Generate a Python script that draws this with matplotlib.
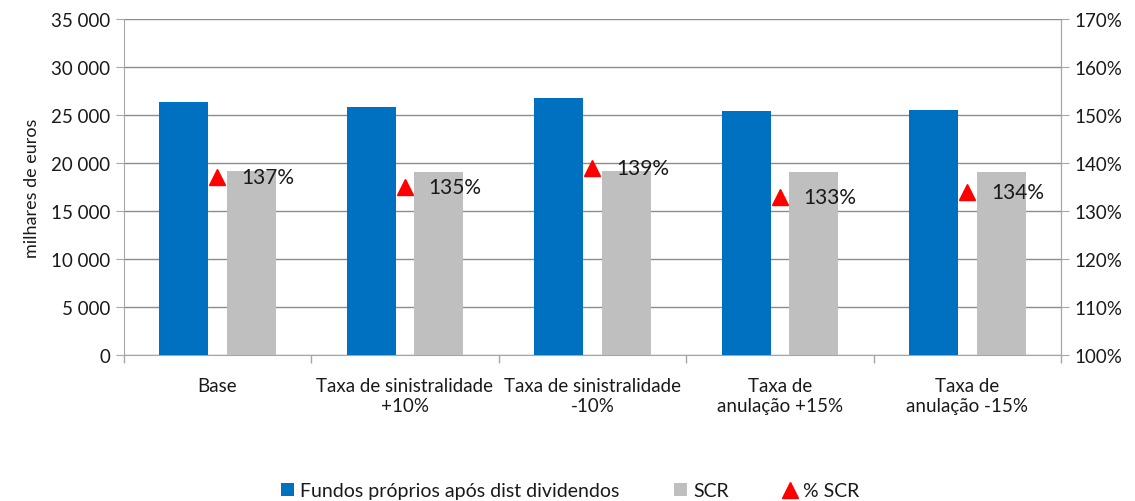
import numpy as np
import matplotlib
matplotlib.use("Agg")
import matplotlib.pyplot as plt
from matplotlib.ticker import FuncFormatter

plt.rcParams['font.family'] = ['Lato', 'DejaVu Sans']

categories = ["Base", "Taxa de sinistralidade\n+10%", "Taxa de sinistralidade\n-10%",
              "Taxa de\nanulação +15%", "Taxa de\nanulação -15%"]
fundos = [26350, 25850, 26780, 25420, 25520]
scr = [19170, 19060, 19170, 19060, 19080]
pct_scr = [137, 135, 139, 133, 134]

blue = '#0070c0'
grey = '#bfbfbf'
axis_grey = '#a6a6a6'
txt = '#1a1a1a'

fig = plt.figure(figsize=(11.35, 5.02), dpi=100)
ax = fig.add_axes([0.109, 0.291, 0.826, 0.669])
x = np.arange(len(categories))
w = 0.26
ax.bar(x - 0.18, fundos, w, color=blue, label='Fundos próprios após dist dividendos', zorder=3)
ax.bar(x + 0.18, scr, w, color=grey, label='SCR', zorder=3)
ax.set_xlim(-0.5, len(categories) - 0.5)
ax.set_ylim(0, 35000)
ax.set_yticks(np.arange(0, 35001, 5000))
ax.yaxis.set_major_formatter(FuncFormatter(lambda v, p: f"{int(v):,}".replace(",", " ")))
ax.grid(axis='y', color='#8c8c8c', linewidth=1, zorder=0)
ax.set_ylabel('milhares de euros', fontsize=13, labelpad=8, color=txt)

ax.set_xticks(x)
ax.set_xticklabels(categories, fontsize=13.5, color=txt)
ax.set_xticks(np.arange(-0.5, len(categories), 1), minor=True)
ax.tick_params(axis='x', which='major', length=0, pad=16)
ax.tick_params(axis='x', which='minor', length=6, color=axis_grey, width=1)
ax.tick_params(axis='y', labelsize=13.5, length=6, color=axis_grey, labelcolor=txt)
ax.spines['top'].set_visible(False)
for s in ['left', 'bottom', 'right']:
    ax.spines[s].set_color(axis_grey)

ax2 = ax.twinx()
ax2.set_ylim(100, 170)
ax2.set_yticks(np.arange(100, 171, 10))
ax2.yaxis.set_major_formatter(FuncFormatter(lambda v, p: f"{int(v)}%"))
ax2.tick_params(axis='y', labelsize=13.5, length=6, color=axis_grey, labelcolor=txt)
ax2.spines['top'].set_visible(False)
ax2.spines['right'].set_color(axis_grey)
ax2.spines['left'].set_visible(False)
ax2.spines['bottom'].set_visible(False)
ax2.plot(x, pct_scr, linestyle='none', marker='^', color='#ff0000', markersize=11,
         label='% SCR', zorder=5)
for xi, p in zip(x, pct_scr):
    ax2.annotate(f"{p}%", (xi, p), xytext=(17, 0), textcoords='offset points',
                 va='center', ha='left', fontsize=15, color=txt)

h1, l1 = ax.get_legend_handles_labels()
h2, l2 = ax2.get_legend_handles_labels()
fig.legend(h1 + h2, l1 + l2, loc='center', bbox_to_anchor=(0.502, 0.02), ncol=3,
           frameon=False, fontsize=14, handlelength=0.7, handleheight=0.7,
           handletextpad=0.3, columnspacing=2.8, labelcolor=txt)

fig.savefig('out.png', dpi=100)
